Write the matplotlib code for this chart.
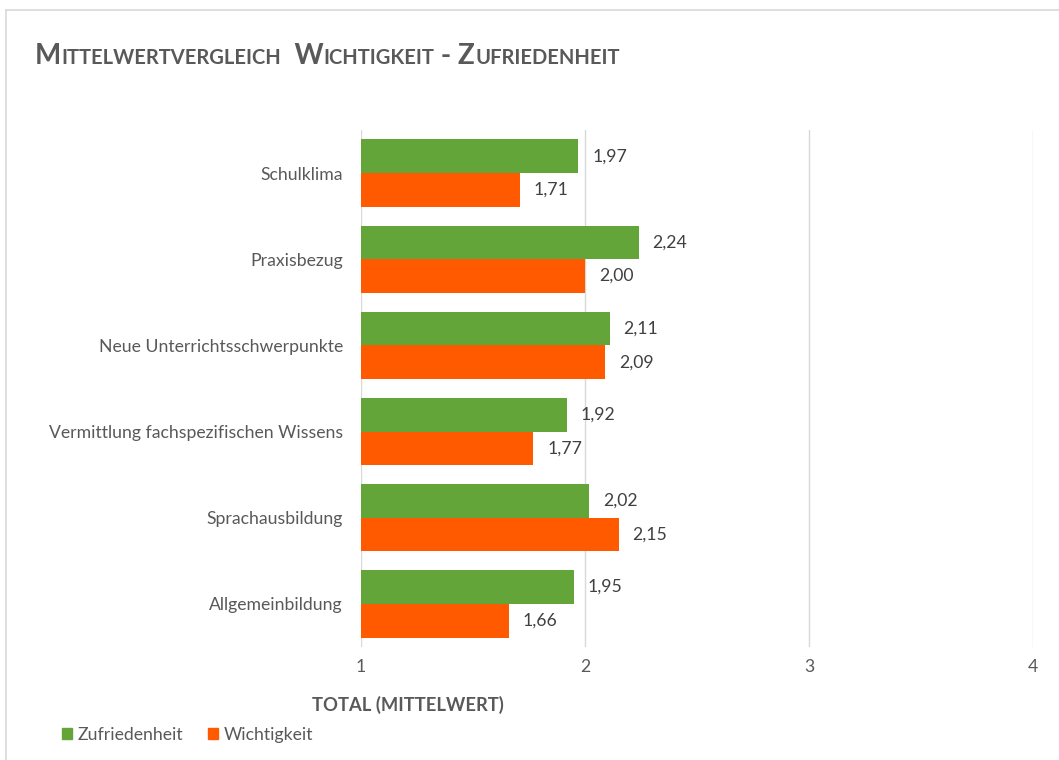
import matplotlib
matplotlib.use("Agg")
import matplotlib.pyplot as plt
from matplotlib.patches import Patch
from matplotlib.lines import Line2D
import numpy as np

categories = ["Schulklima", "Praxisbezug", "Neue Unterrichtsschwerpunkte",
              "Vermittlung fachspezifischen Wissens", "Sprachausbildung", "Allgemeinbildung"]
zufriedenheit = [1.97, 2.24, 2.11, 1.92, 2.02, 1.95]
wichtigkeit = [1.71, 2.00, 2.09, 1.77, 2.15, 1.66]
series_names = ["Zufriedenheit", "Wichtigkeit"]
xticks = [1, 2, 3, 4]
title = "Mittelwertvergleich  Wichtigkeit - Zufriedenheit"
xlabel = "TOTAL (MITTELWERT)"

GREEN = "#63A539"
ORANGE = "#FF5A00"
TXT = "#595959"
FONT = "Lato"
FS = 12.7

W, H = 1059, 760
fig = plt.figure(figsize=(W / 100, H / 100), dpi=100)
fig.patch.set_facecolor("white")

# border
fig.add_artist(Line2D([6 / W, 6 / W], [0, 1 - 10 / H], transform=fig.transFigure, color="#D9D9D9", lw=1.2))
fig.add_artist(Line2D([6 / W, 1], [1 - 10 / H, 1 - 10 / H], transform=fig.transFigure, color="#D9D9D9", lw=1.2))

ax = fig.add_axes([361 / W, 1 - 647 / H, (1033 - 361) / W, (647 - 130) / H])
y = np.arange(len(categories))
h = 0.39
base = 1
ax.barh(y - h / 2, np.array(zufriedenheit) - base, left=base, height=h, color=GREEN, zorder=3)
ax.barh(y + h / 2, np.array(wichtigkeit) - base, left=base, height=h, color=ORANGE, zorder=3)
for yi, v in zip(y - h / 2, zufriedenheit):
    ax.annotate(f"{v:.2f}".replace(".", ","), (v, yi), xytext=(10, 0), textcoords="offset points",
                va="center", ha="left", fontsize=FS, color="#404040", family=FONT)
for yi, v in zip(y + h / 2, wichtigkeit):
    ax.annotate(f"{v:.2f}".replace(".", ","), (v, yi), xytext=(10, 0), textcoords="offset points",
                va="center", ha="left", fontsize=FS, color="#404040", family=FONT)

ax.set_xlim(1, 4)
ax.set_ylim(len(categories) - 0.5, -0.5)
ax.set_xticks(xticks)
ax.set_xticklabels([str(t) for t in xticks], fontsize=FS, color=TXT, family=FONT)
ax.set_yticks(y)
ax.set_yticklabels(categories, fontsize=FS, color=TXT, family=FONT)
ax.tick_params(length=0)
ax.tick_params(axis="x", pad=9)
ax.tick_params(axis="y", pad=13)
ax.grid(axis="x", color="#D9D9D9", lw=1, zorder=0)
for s in ax.spines.values():
    s.set_visible(False)

fig.text(408 / W, 1 - 705 / H, xlabel, ha="center", va="center", fontsize=13.2, fontweight="bold",
         color=TXT, family=FONT)

# legend
handles = [Patch(color=GREEN, label=series_names[0]), Patch(color=ORANGE, label=series_names[1])]
fig.legend(handles=handles, loc="center left", bbox_to_anchor=(46 / W, 1 - 735 / H), ncol=2, frameon=False,
           handlelength=0.55, handleheight=0.55, handletextpad=0.35, columnspacing=1.4,
           prop={"family": FONT, "size": FS}, labelcolor=TXT)

# small-caps title
renderer = fig.canvas.get_renderer()
x = 35
ty = 1 - 64 / H
big, small = 20, 14.5
segs = []
for ch in title:
    if ch.isupper() or not ch.isalpha():
        segs.append((ch, big))
    else:
        segs.append((ch.upper(), small))
merged = []
for ch, s in segs:
    if merged and merged[-1][1] == s:
        merged[-1] = (merged[-1][0] + ch, s)
    else:
        merged.append((ch, s))
for txt, s in merged:
    t = fig.text(x / W, ty, txt, fontsize=s, fontweight="bold", color=TXT, family=FONT,
                 ha="left", va="baseline")
    bb = t.get_window_extent(renderer=renderer)
    x += bb.width

fig.savefig("out.png", dpi=100, facecolor="white")
